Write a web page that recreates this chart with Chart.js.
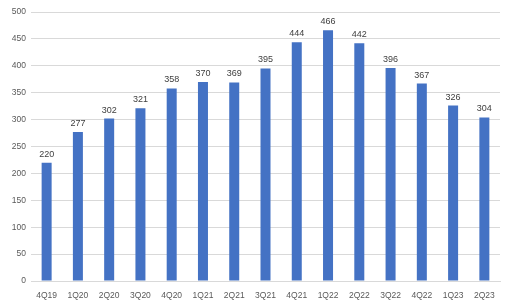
<!DOCTYPE html>
<html>
<head>
<meta charset="utf-8">
<script src="https://cdn.jsdelivr.net/npm/chart.js@4"></script>
<style>
  html, body { margin: 0; padding: 0; background: #fff; }
  #wrap { width: 511px; height: 305px; }
</style>
</head>
<body>
<div id="wrap"><canvas id="chart" width="511" height="305"></canvas></div>
<script>
const quarters = ['4Q19', '1Q20', '2Q20', '3Q20', '4Q20', '1Q21', '2Q21', '3Q21', '4Q21', '1Q22', '2Q22', '3Q22', '4Q22', '1Q23', '2Q23'];
const values = [220, 277, 302, 321, 358, 370, 369, 395, 444, 466, 442, 396, 367, 326, 304];
const yTicks = [0, 50, 100, 150, 200, 250, 300, 350, 400, 450, 500];

// draw the value above each bar
const barLabels = {
  id: 'barLabels',
  afterDatasetsDraw(chart) {
    const ctx = chart.ctx;
    const meta = chart.getDatasetMeta(0);
    ctx.save();
    ctx.font = '9px "Liberation Sans", sans-serif';
    ctx.fillStyle = '#404040';
    ctx.textAlign = 'center';
    ctx.textBaseline = 'bottom';
    meta.data.forEach((bar, i) => {
      ctx.fillText(String(values[i]), bar.x, bar.y - 4);
    });
    ctx.restore();
  }
};

new Chart(document.getElementById('chart'), {
  type: 'bar',
  data: {
    labels: quarters,
    datasets: [{
      data: values,
      backgroundColor: '#4472C4',
      barPercentage: 0.64,
      categoryPercentage: 0.5
    }]
  },
  options: {
    responsive: false,
    animation: false,
    layout: { padding: { top: 12, right: 11, left: 0, bottom: 0 } },
    plugins: {
      legend: { display: false },
      tooltip: { enabled: false }
    },
    scales: {
      x: {
        grid: { display: false },
        border: { color: '#d9d9d9' },
        ticks: {
          color: '#595959',
          font: { family: '"Liberation Sans", sans-serif', size: 8.5 },
          maxRotation: 0,
          padding: 2
        },
        afterFit(scale) { scale.height = 24; }
      },
      y: {
        min: 0,
        max: 500,
        afterBuildTicks(scale) { scale.ticks = yTicks.map(v => ({ value: v })); },
        grid: { color: '#d9d9d9', drawTicks: false },
        border: { display: false },
        ticks: {
          color: '#595959',
          font: { family: '"Liberation Sans", sans-serif', size: 8.5 },
          padding: 5
        },
        afterFit(scale) { scale.width = 31; }
      }
    }
  },
  plugins: [barLabels]
});
</script>
</body>
</html>
